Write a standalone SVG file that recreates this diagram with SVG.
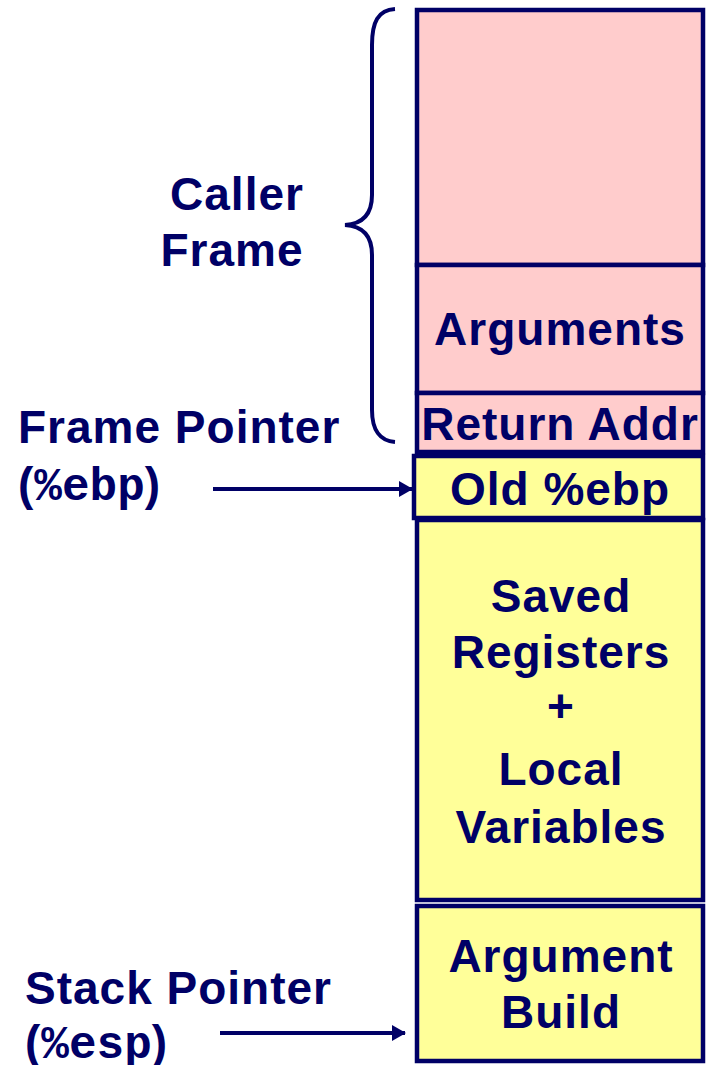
<svg xmlns="http://www.w3.org/2000/svg" width="706" height="1065" viewBox="0 0 706 1065">
<defs>
<style>
.box{stroke:#000066;stroke-width:4.5}
.pink{fill:#FFCCCC}
.yel{fill:#FFFF99}
.t{font-family:"Liberation Sans",Arial,sans-serif;font-weight:bold;font-size:46px;fill:#000066;letter-spacing:1px}
.c{text-anchor:middle}
.mono{font-family:"Liberation Mono","Courier New",monospace;font-weight:bold;letter-spacing:0}
.conn{stroke:#000066;stroke-width:4;fill:none}
</style>
<marker id="ah" markerWidth="14" markerHeight="16" refX="13" refY="8" orient="auto" markerUnits="userSpaceOnUse">
<path d="M0,0 L14,8 L0,16 Z" fill="#000066"/>
</marker>
</defs>
<rect width="706" height="1065" fill="#ffffff"/>

<g id="caller-top"><rect class="box pink" x="417" y="10" width="286" height="255"/></g>
<g id="arguments"><rect class="box pink" x="417" y="265" width="286" height="128"/>
<text class="t c" x="560" y="345">Arguments</text></g>
<g id="return-addr"><rect class="box pink" x="417" y="393" width="286" height="59"/>
<text class="t c" x="560" y="440">Return Addr</text></g>
<g id="old-ebp"><rect class="box yel" x="414" y="456" width="289" height="62"/>
<text class="t c" x="560" y="505">Old %ebp</text></g>
<g id="saved"><rect class="box yel" x="417" y="520" width="286" height="380"/>
<text class="t c" x="561" y="612">Saved</text>
<text class="t c" x="561" y="668">Registers</text>
<text class="t c" x="561" y="722">+</text>
<text class="t c" x="561" y="785">Local</text>
<text class="t c" x="561" y="843">Variables</text></g>
<g id="arg-build"><rect class="box yel" x="417" y="906" width="286" height="155"/>
<text class="t c" x="561" y="972">Argument</text>
<text class="t c" x="561" y="1028">Build</text></g>

<g id="caller-frame-label">
<path class="conn" d="M395,9 C378,10 372,22 372,45 L372,195 C372,215 362,224 345,225 C362,226 372,235 372,255 L372,410 C372,430 380,441 395,442"/>
<text class="t c" x="237" y="210">Caller</text>
<text class="t c" x="232" y="266">Frame</text>
</g>
<g id="frame-pointer">
<text class="t" x="18" y="443">Frame Pointer</text>
<text class="t" x="18" y="500">(<tspan class="mono">%ebp</tspan>)</text>
</g>
<g id="stack-pointer">
<text class="t" x="25" y="1004">Stack Pointer</text>
<text class="t" x="25" y="1058">(<tspan class="mono">%esp</tspan>)</text>
</g>
<g id="connectors">
<line class="conn" x1="213" y1="489" x2="412" y2="489" marker-end="url(#ah)"/>
<line class="conn" x1="220" y1="1033" x2="405" y2="1033" marker-end="url(#ah)"/>
</g>
</svg>
